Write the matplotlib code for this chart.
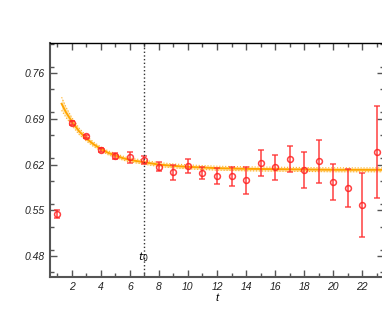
import numpy as np
import matplotlib
matplotlib.use('Agg')
import matplotlib.pyplot as plt
from matplotlib.ticker import MultipleLocator

plt.rcParams['font.family'] = ['Liberation Sans', 'DejaVu Sans']

# data points
t = [1, 2, 3, 4, 5, 6, 7, 8, 9, 10, 11, 12, 13, 14, 15, 16, 17, 18, 19, 20, 21, 22, 23]
val = [0.545, 0.684, 0.663, 0.643, 0.633, 0.631, 0.627, 0.617, 0.608, 0.618, 0.607, 0.602,
       0.602, 0.596, 0.622, 0.616, 0.629, 0.611, 0.625, 0.594, 0.584, 0.558, 0.639]
err = [0.006, 0.003, 0.003, 0.003, 0.0045, 0.008, 0.006, 0.0064, 0.0115, 0.011, 0.0097, 0.012,
       0.0145, 0.021, 0.020, 0.019, 0.0196, 0.0275, 0.033, 0.0275, 0.0295, 0.0487, 0.070]

# fit curve and its band
fit_t = [1.3, 1.6, 2.0, 2.5, 3.0, 3.5, 4.0, 4.5, 5.0, 5.5, 6.0, 7.0, 8.0, 9.0, 10.0,
         12.0, 14.0, 16.0, 18.0, 20.0, 23.5]
fit_c = [0.713, 0.700, 0.686, 0.671, 0.660, 0.651, 0.644, 0.638, 0.634, 0.630, 0.627,
         0.6235, 0.620, 0.618, 0.6165, 0.6145, 0.6135, 0.613, 0.6125, 0.612, 0.612]
fit_e = [0.010, 0.008, 0.006, 0.005, 0.004, 0.0035, 0.003, 0.003, 0.003, 0.003, 0.003,
         0.003, 0.003, 0.003, 0.003, 0.003, 0.003, 0.003, 0.003, 0.003, 0.003]

t0 = 7

fig = plt.figure(figsize=(3.82, 3.27), dpi=100)
ax = fig.add_axes([50 / 382, 1 - 277 / 327, 334 / 382, 234 / 327])

fc = np.array(fit_c)
fe = np.array(fit_e)
ax.fill_between(fit_t, fc - fe, fc + fe, color='#ffd070', alpha=0.5, lw=0)
ax.plot(fit_t, fc + fe, color='#ffb020', lw=0.8, ls=':')
ax.plot(fit_t, fc - fe, color='#ffb020', lw=0.8, ls=':')
ax.plot(fit_t, fc, color='#ffa500', lw=1.4)

ax.errorbar(t, val, yerr=err, fmt='o', mfc='none', mec='#ff2020', ms=4.2, mew=1.1,
            ecolor='#ff3030', elinewidth=1.2, capsize=2.5, capthick=1.0, alpha=0.85)

ax.axvline(t0, color='#333333', ls=':', lw=1.0)
ax.text(t0 - 0.05, 0.478, r'$t_0$', ha='center', va='center', fontsize=8)

ax.set_xlim(0.5, 23.5)
ax.set_ylim(0.448, 0.806)
ax.xaxis.set_major_locator(MultipleLocator(2))
ax.xaxis.set_minor_locator(MultipleLocator(1))
ax.set_yticks([0.48, 0.55, 0.62, 0.69, 0.76])
ax.set_yticklabels(['0.48', '0.55', '0.62', '0.69', '0.76'])
ax.yaxis.set_minor_locator(MultipleLocator(0.035))
ax.tick_params(which='both', direction='in', top=True, right=True, labelsize=7.5,
               colors='#555555', labelcolor='#222222')
ax.tick_params(which='major', length=5, width=1.0)
ax.tick_params(which='minor', length=3, width=1.0)
for lab in ax.get_xticklabels() + ax.get_yticklabels():
    lab.set_style('italic')
for s in ['left', 'bottom']:
    ax.spines[s].set_color('#555555')
    ax.spines[s].set_linewidth(1.5)
ax.spines['top'].set_color('black')
ax.spines['top'].set_linewidth(1.0)
ax.spines['right'].set_visible(False)
ax.set_xlabel('t', style='italic', fontsize=8, labelpad=1)

fig.savefig('out.png', dpi=100)
